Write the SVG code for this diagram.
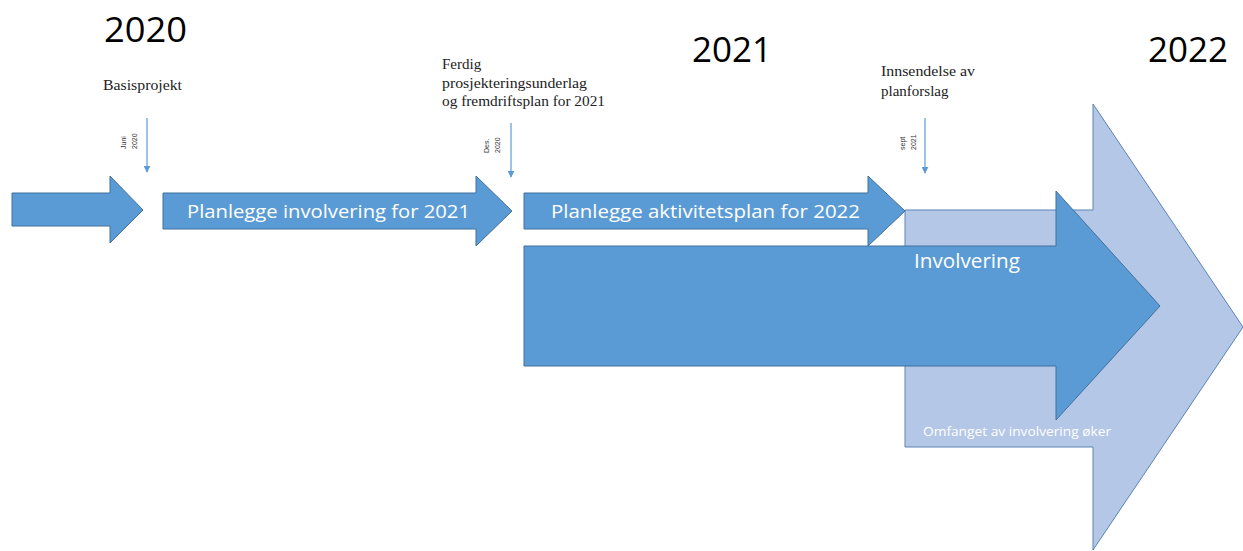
<svg xmlns="http://www.w3.org/2000/svg" width="1243" height="551" viewBox="0 0 1243 551">
  <defs>
    <marker id="ah" viewBox="0 0 10 10" refX="9" refY="5" markerWidth="7" markerHeight="7" markerUnits="userSpaceOnUse" orient="auto">
      <path d="M0,0 L10,5 L0,10 z" fill="#5b9bd5"/>
    </marker>
    <style>
      .dark { fill: #5b9bd5; stroke: #41719c; stroke-width: 1; }
      .light { fill: #b4c7e7; stroke: #5a84b4; stroke-width: 1; }
      .year { font-family: "Open Sans", "Liberation Sans", sans-serif; font-size: 34px; fill: #000; }
      .note { font-family: "Liberation Serif", serif; font-size: 15px; fill: #222; }
      .tiny { font-family: "Liberation Sans", sans-serif; font-size: 7px; fill: #333; }
      .lbl { font-family: "Open Sans", "Liberation Sans", sans-serif; fill: #fff; }
      .tick { stroke: #5b9bd5; stroke-width: 1.2; fill: none; marker-end: url(#ah); }
    </style>
  </defs>
  <rect width="1243" height="551" fill="#fff"/>

  <g id="involvering-okt">
    <polygon class="light" points="905,210 1093,210 1093,104 1243,327 1093,550 1093,447 905,447"/>
    <text class="lbl" x="923" y="436" font-size="12.5" textLength="188" lengthAdjust="spacingAndGlyphs">Omfanget av involvering  øker</text>
  </g>

  <g id="involvering">
    <polygon class="dark" points="524,246 1056,246 1056,191 1160,306 1056,420 1056,366 524,366"/>
    <text class="lbl" x="914" y="268" font-size="20" textLength="106" lengthAdjust="spacingAndGlyphs">Involvering</text>
  </g>

  <g id="start-arrow">
    <polygon class="dark" points="12,193 110,193 110,176 143,210 110,243 110,226 12,226"/>
  </g>

  <g id="planlegge-involvering">
    <polygon class="dark" points="163,193 476,193 476,176 512,211 476,246 476,229 163,229"/>
    <text class="lbl" x="187" y="218" font-size="18" textLength="283" lengthAdjust="spacingAndGlyphs">Planlegge involvering for 2021</text>
  </g>

  <g id="planlegge-aktivitetsplan">
    <polygon class="dark" points="524,193 868,193 868,176 905,211 868,246 868,229 524,229"/>
    <text class="lbl" x="551" y="218" font-size="18" textLength="309" lengthAdjust="spacingAndGlyphs">Planlegge aktivitetsplan for 2022</text>
  </g>

  <g id="years">
    <text class="year" x="104" y="42" textLength="83" lengthAdjust="spacingAndGlyphs">2020</text>
    <text class="year" x="692" y="62" textLength="80" lengthAdjust="spacingAndGlyphs">2021</text>
    <text class="year" x="1148" y="62" textLength="80" lengthAdjust="spacingAndGlyphs">2022</text>
  </g>

  <g id="milestone-basis">
    <text class="note" x="103" y="90" textLength="79" lengthAdjust="spacingAndGlyphs">Basisprojekt</text>
    <g transform="translate(126,149) rotate(-90)">
      <text class="tiny" x="0" y="0">Juni</text>
      <text class="tiny" x="0" y="11">2020</text>
    </g>
  </g>

  <g id="milestone-ferdig">
    <text class="note" x="442" y="69">Ferdig</text>
    <text class="note" x="442" y="88" textLength="145" lengthAdjust="spacingAndGlyphs">prosjekteringsunderlag</text>
    <text class="note" x="442" y="106" textLength="163" lengthAdjust="spacingAndGlyphs">og fremdriftsplan  for 2021</text>
    <g transform="translate(489,153) rotate(-90)">
      <text class="tiny" x="0" y="0">Des.</text>
      <text class="tiny" x="0" y="11">2020</text>
    </g>
  </g>

  <g id="milestone-innsendelse">
    <text class="note" x="881" y="76" textLength="94" lengthAdjust="spacingAndGlyphs">Innsendelse  av</text>
    <text class="note" x="881" y="96">planforslag</text>
    <g transform="translate(905,150) rotate(-90)">
      <text class="tiny" x="0" y="0">sept</text>
      <text class="tiny" x="0" y="11">2021</text>
    </g>
  </g>

  <g id="connectors">
    <line class="tick" x1="147" y1="118" x2="147" y2="172"/>
    <line class="tick" x1="511" y1="123" x2="511" y2="177"/>
    <line class="tick" x1="925" y1="118" x2="925" y2="173"/>
  </g>
</svg>
